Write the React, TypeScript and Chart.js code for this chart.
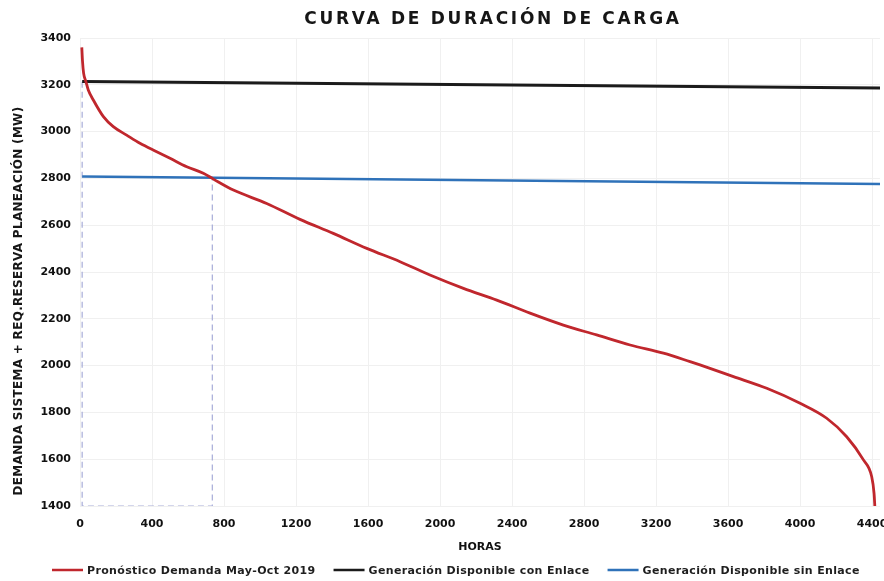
import React, { useEffect, useRef } from "react";
import { Chart, registerables } from "chart.js";

Chart.register(...registerables);

// ---- Data ----
const TITLE = "CURVA DE DURACIÓN DE CARGA";
const Y_TITLE = "DEMANDA SISTEMA + REQ.RESERVA PLANEACIÓN (MW)";
const X_TITLE = "HORAS";

const demandLabel = "Pronóstico Demanda May-Oct 2019";
const withLinkLabel = "Generación Disponible con Enlace";
const withoutLinkLabel = "Generación Disponible sin Enlace";

const demandHours = [10, 14, 20, 33, 46, 74, 130, 185, 259, 333, 426, 500, 593, 685, 741, 852, 1037, 1222, 1407, 1593, 1778, 1944, 2130, 2315, 2500, 2685, 2870, 3056, 3241, 3389, 3444, 3630, 3815, 4000, 4148, 4259, 4352, 4398, 4411, 4416];
const demandMW = [3360, 3300, 3250, 3213, 3178, 3135, 3064, 3021, 2985, 2950, 2914, 2886, 2850, 2822, 2797, 2750, 2693, 2625, 2565, 2501, 2444, 2387, 2330, 2280, 2224, 2173, 2131, 2088, 2053, 2017, 2003, 1953, 1903, 1839, 1775, 1696, 1597, 1525, 1454, 1390];

const genHours = [12, 4444];
const genWithLinkMW = [3214, 3186];
const genWithoutLinkMW = [2808, 2776];

const guideHours = [12, 12, 735, 735];
const guideMW = [3213, 1400, 1400, 2807];

const X_TICKS = [0, 400, 800, 1200, 1600, 2000, 2400, 2800, 3200, 3600, 4000, 4400];
const Y_TICKS = [1400, 1600, 1800, 2000, 2200, 2400, 2600, 2800, 3000, 3200, 3400];
const X_MIN = 0;
const X_MAX = 4444;
const Y_MIN = 1400;
const Y_MAX = 3400;

const zip = (xs: number[], ys: number[]) => xs.map((x, i) => ({ x, y: ys[i] }));

const FONT = '"DejaVu Sans", sans-serif';

const textPlugin = {
  id: "customText",
  afterDraw(chart: any) {
    const ctx = chart.ctx as CanvasRenderingContext2D;
    ctx.save();
    // Title
    ctx.fillStyle = "#161616";
    ctx.font = `bold 17px ${FONT}`;
    (ctx as any).letterSpacing = "2.7px";
    ctx.textAlign = "center";
    ctx.textBaseline = "middle";
    ctx.fillText(TITLE, 493, 20);

    // Y title
    ctx.save();
    ctx.font = `bold 12px ${FONT}`;
    (ctx as any).letterSpacing = "0.3px";
    ctx.translate(19, 301);
    ctx.rotate(-Math.PI / 2);
    ctx.fillText(Y_TITLE, 0, 0);
    ctx.restore();

    // Legend
    ctx.font = `bold 11px ${FONT}`;
    (ctx as any).letterSpacing = "0.35px";
    ctx.textAlign = "left";
    ctx.textBaseline = "middle";
    let x = 52;
    const y = 570;
    chart.data.datasets.forEach((ds: any) => {
      if (!ds.showInLegend) return;
      ctx.strokeStyle = ds.borderColor;
      ctx.lineWidth = 2.5;
      ctx.setLineDash([]);
      ctx.beginPath();
      ctx.moveTo(x, y);
      ctx.lineTo(x + 31, y);
      ctx.stroke();
      x += 35;
      ctx.fillStyle = "#1e1e1e";
      ctx.fillText(ds.label, x, y + 1);
      x += ctx.measureText(ds.label).width + 18;
    });
    ctx.restore();
  },
};

export default function App() {
  const canvasRef = useRef<HTMLCanvasElement | null>(null);

  useEffect(() => {
    document.body.style.margin = "0";
    const canvas = canvasRef.current;
    if (!canvas) return;
    const chart = new Chart(canvas, {
      type: "line",
      data: {
        datasets: [
          {
            label: demandLabel,
            data: zip(demandHours, demandMW),
            borderColor: "#c0272d",
            borderWidth: 2.8,
            pointRadius: 0,
            cubicInterpolationMode: "monotone",
            showInLegend: true,
            order: 1,
          } as any,
          {
            label: withLinkLabel,
            data: zip(genHours, genWithLinkMW),
            borderColor: "#1b1b1b",
            borderWidth: 3,
            pointRadius: 0,
            showInLegend: true,
            order: 3,
          } as any,
          {
            label: withoutLinkLabel,
            data: zip(genHours, genWithoutLinkMW),
            borderColor: "#2f72b9",
            borderWidth: 2.6,
            pointRadius: 0,
            showInLegend: true,
            order: 2,
          } as any,
          {
            label: "guide",
            data: zip(guideHours, guideMW),
            borderColor: "#a7acd8",
            borderWidth: 1.2,
            borderDash: [6, 4],
            pointRadius: 0,
            showInLegend: false,
            order: 4,
          } as any,
        ],
      },
      options: {
        responsive: false,
        animation: false,
        layout: { padding: { top: 38, right: 4, left: 0, bottom: 0 } },
        plugins: {
          legend: { display: false },
          title: { display: false },
          tooltip: { enabled: false },
        },
        scales: {
          x: {
            type: "linear",
            min: X_MIN,
            max: X_MAX,
            border: { display: false },
            grid: { color: "#f0f0f0", drawTicks: false },
            afterBuildTicks: (scale: any) => {
              scale.ticks = X_TICKS.map((value) => ({ value }));
            },
            ticks: {
              autoSkip: false,
              padding: 12,
              color: "#111",
              font: { family: FONT, size: 11, weight: "bold" },
              maxRotation: 0,
              callback: (v: any) => String(v),
            },
            title: {
              display: true,
              text: X_TITLE,
              color: "#111",
              font: { family: FONT, size: 11, weight: "bold" },
              padding: { top: 0, bottom: 27 },
            },
            afterFit: (scale: any) => {
              scale.height = 75;
              scale.paddingRight = 0;
              scale.paddingLeft = 0;
            },
          },
          y: {
            type: "linear",
            min: Y_MIN,
            max: Y_MAX,
            border: { display: false },
            grid: { color: "#f0f0f0", drawTicks: false },
            afterBuildTicks: (scale: any) => {
              scale.ticks = Y_TICKS.map((value) => ({ value }));
            },
            ticks: {
              padding: 9,
              color: "#111",
              font: { family: FONT, size: 11, weight: "bold" },
              callback: (v: any) => String(v),
            },
            afterFit: (scale: any) => {
              scale.width = 80;
            },
          },
        },
      } as any,
      plugins: [textPlugin],
    });
    return () => chart.destroy();
  }, []);

  return (
    <div style={{ width: 884, height: 581, background: "#fff" }}>
      <canvas ref={canvasRef} width={884} height={581} style={{ display: "block" }} />
    </div>
  );
}
